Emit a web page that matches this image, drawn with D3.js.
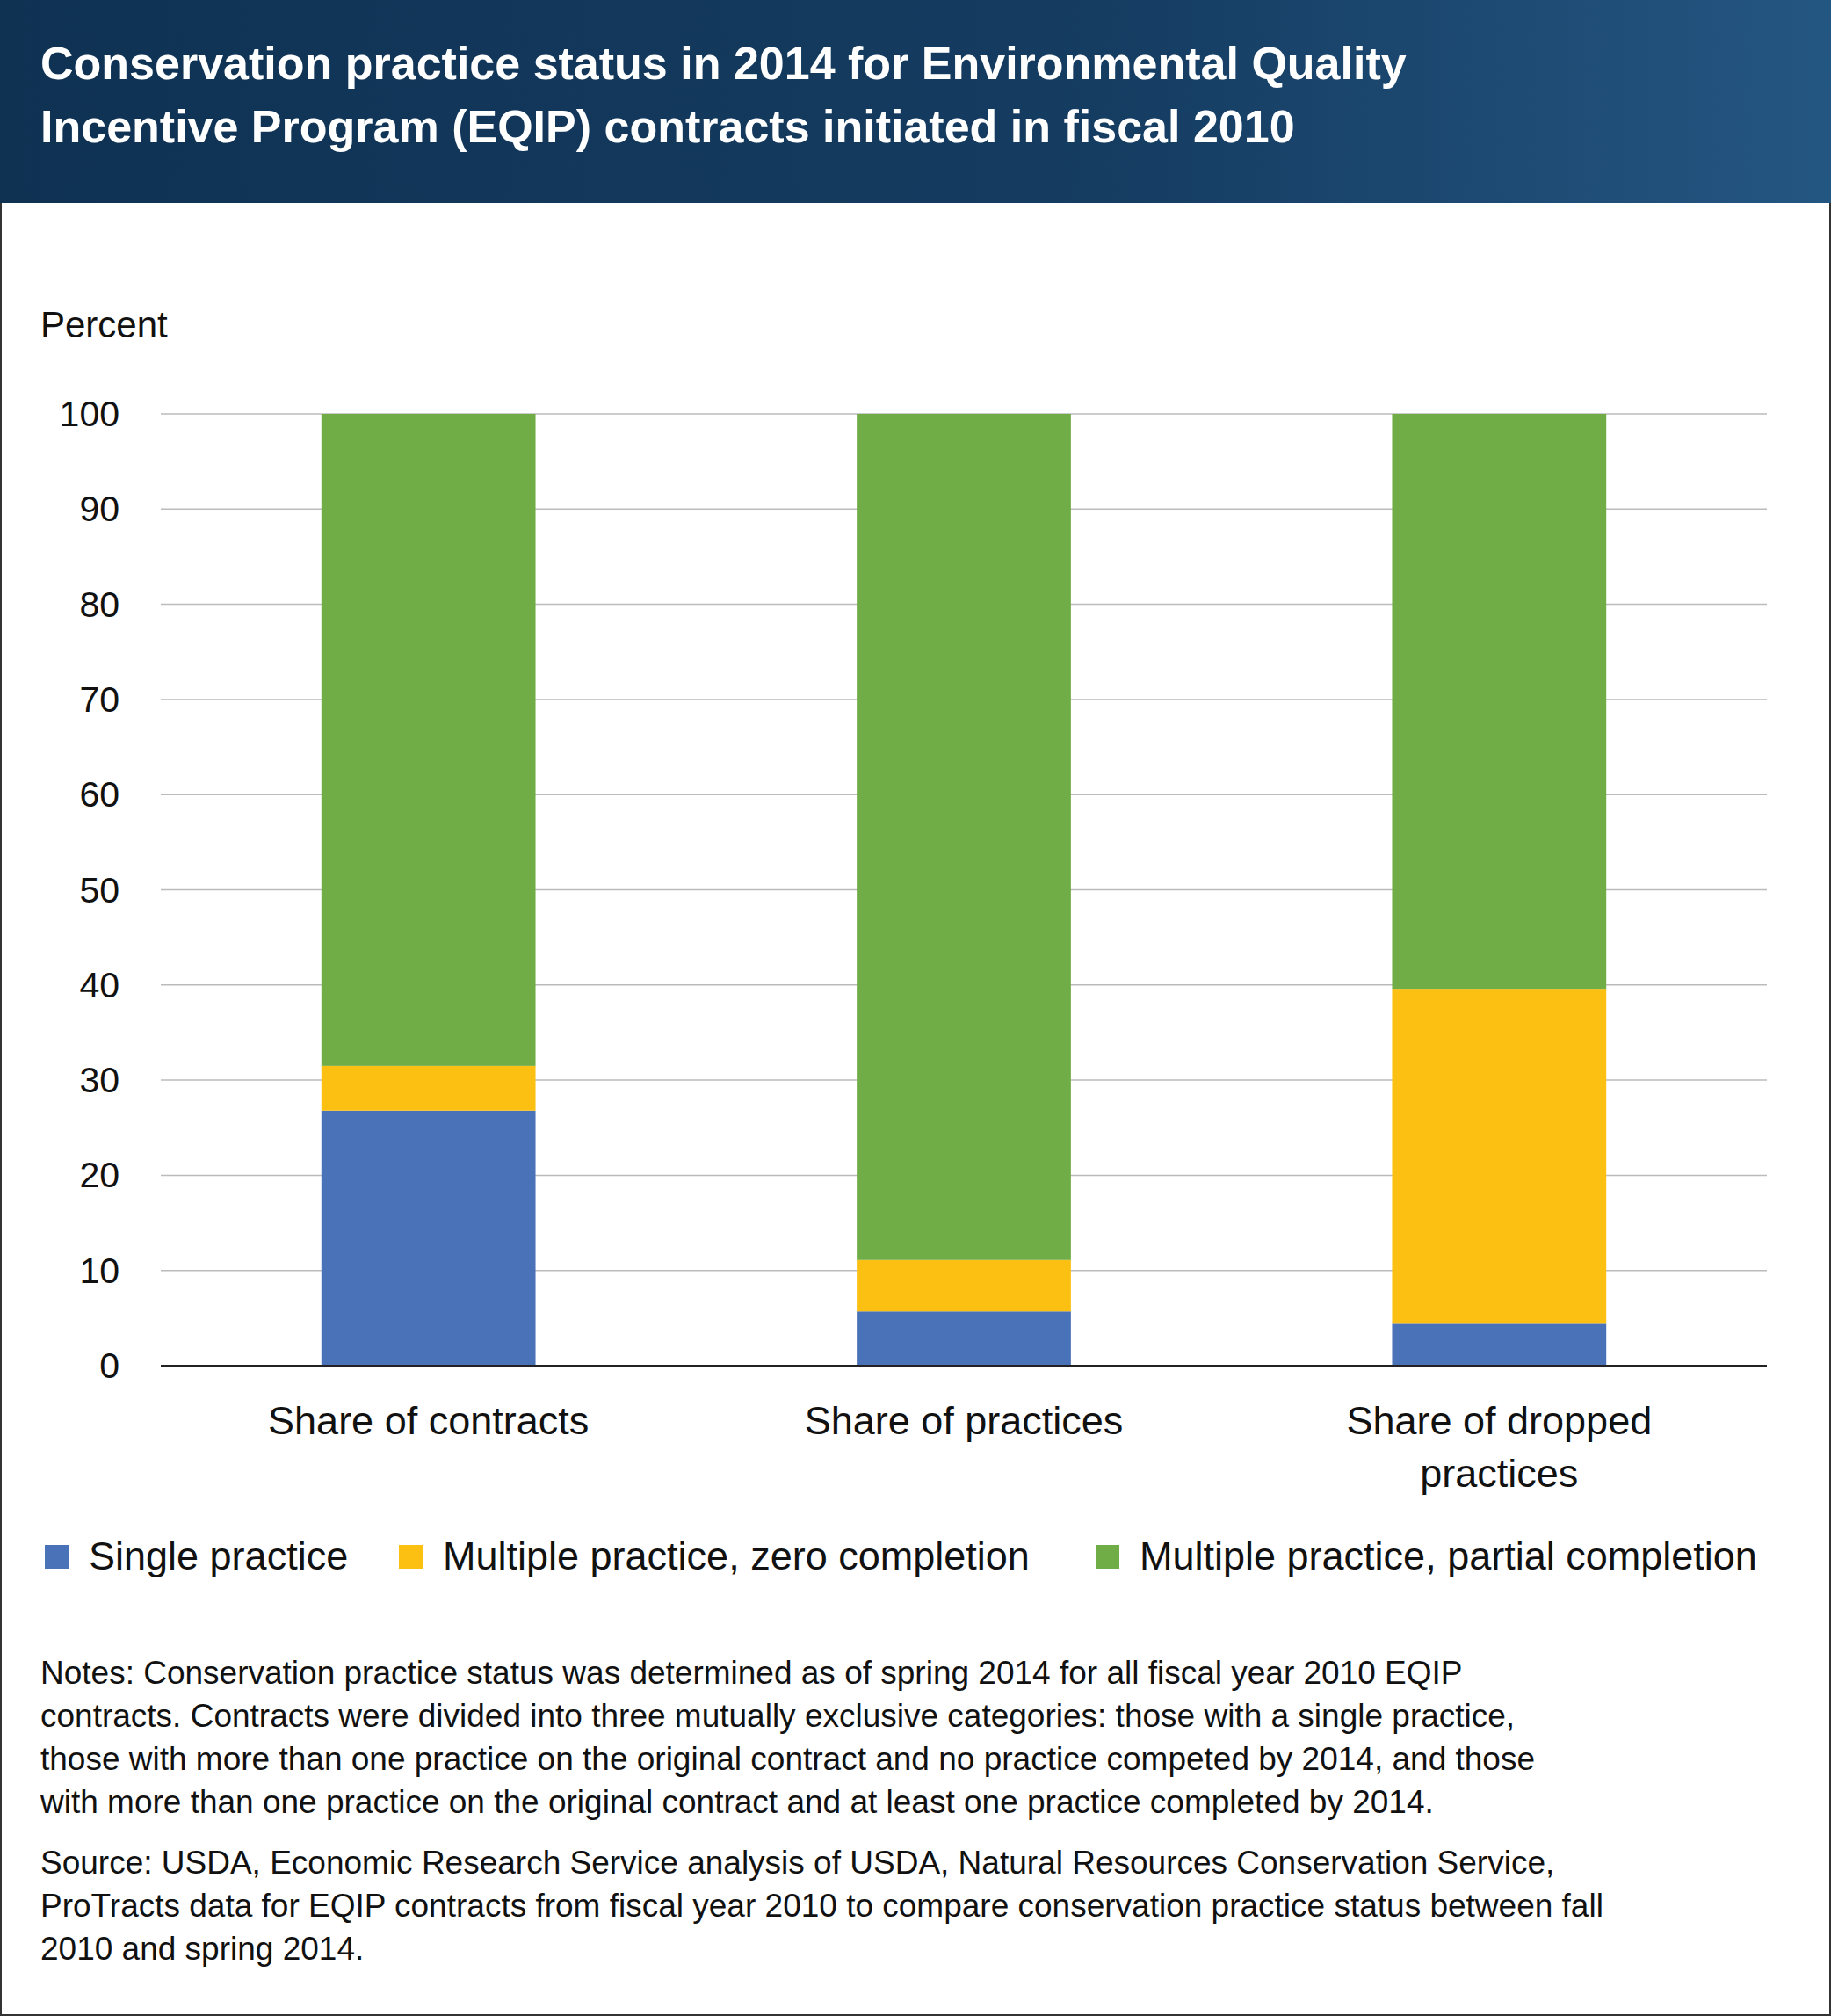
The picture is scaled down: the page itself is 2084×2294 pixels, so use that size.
<!DOCTYPE html>
<html><head><meta charset="utf-8">
<script src="https://cdn.jsdelivr.net/npm/d3@7"></script>
<style>body{margin:0;background:#fff}svg{display:block;font-family:"Liberation Sans",Arial,sans-serif}</style>
</head><body>
<svg id="chart" width="2084" height="2294"></svg>
<script>
// chart data
var categories = [["Share of contracts"], ["Share of practices"], ["Share of dropped", "practices"]];
var seriesNames = ["Single practice", "Multiple practice, zero completion", "Multiple practice, partial completion"];
var single = [26.8, 5.7, 4.4];
var zeroDone = [4.7, 5.4, 35.2];
var partial = [68.5, 88.9, 60.4];
var yTicks = [0, 10, 20, 30, 40, 50, 60, 70, 80, 90, 100];
var colors = ["#4a72b8", "#fcc012", "#70ad47"];

var svg = d3.select("#chart");
var defs = svg.append("defs");
var g = defs.append("linearGradient").attr("id", "hdr");
g.append("stop").attr("offset", "0").attr("stop-color", "#0f3253");
g.append("stop").attr("offset", "0.6").attr("stop-color", "#153c61");
g.append("stop").attr("offset", "1").attr("stop-color", "#245682");

svg.append("rect").attr("x", 1).attr("y", 1).attr("width", 2082).attr("height", 2292)
   .attr("fill", "#fff").attr("stroke", "#333").attr("stroke-width", 2);
svg.append("rect").attr("width", 2084).attr("height", 231).attr("fill", "url(#hdr)");
["Conservation practice status in 2014 for Environmental Quality",
 "Incentive Program (EQIP) contracts initiated in fiscal 2010"].forEach(function(t, i) {
    svg.append("text").attr("x", 46).attr("y", 90 + i * 72).attr("fill", "#fff")
       .attr("font-size", 52).attr("font-weight", "bold").text(t);
});

var y = d3.scaleLinear().domain([0, 100]).range([1554, 471]);
var x = d3.scaleBand().domain([0, 1, 2]).range([183, 2011]).paddingInner(0.6).paddingOuter(0.3);

svg.append("text").attr("x", 46).attr("y", 384).attr("font-size", 42).attr("fill", "#111").text("Percent");

// gridlines
svg.selectAll(".grid").data(yTicks.slice(1)).enter().append("line")
   .attr("x1", 183).attr("x2", 2011)
   .attr("y1", function(d) { return y(d); }).attr("y2", function(d) { return y(d); })
   .attr("stroke", "#bbb").attr("stroke-width", 1.5);
svg.selectAll(".ytl").data(yTicks).enter().append("text")
   .attr("x", 136).attr("y", function(d) { return y(d) + 14; })
   .attr("text-anchor", "end").attr("font-size", 41).attr("fill", "#111")
   .text(function(d) { return d; });

// stacked bars
var rows = categories.map(function(c, i) { return {i: i, a: single[i], b: zeroDone[i], c: partial[i]}; });
var stack = d3.stack().keys(["a", "b", "c"])(rows);
svg.selectAll(".layer").data(stack).enter().append("g")
   .attr("fill", function(d, k) { return colors[k]; })
   .selectAll("rect").data(function(d) { return d; }).enter().append("rect")
   .attr("x", function(d) { return x(d.data.i); })
   .attr("width", x.bandwidth())
   .attr("y", function(d) { return y(d[1]); })
   .attr("height", function(d) { return y(d[0]) - y(d[1]); });

svg.append("line").attr("x1", 183).attr("x2", 2011).attr("y1", 1554).attr("y2", 1554)
   .attr("stroke", "#222").attr("stroke-width", 2);

categories.forEach(function(lines, i) {
    lines.forEach(function(t, j) {
        svg.append("text").attr("x", x(i) + x.bandwidth() / 2).attr("y", 1632 + j * 60)
           .attr("text-anchor", "middle").attr("font-size", 45).attr("fill", "#111").text(t);
    });
});

// legend
var legX = [51, 454, 1247];
seriesNames.forEach(function(n, i) {
    svg.append("rect").attr("x", legX[i]).attr("y", 1758).attr("width", 27).attr("height", 27).attr("fill", colors[i]);
    svg.append("text").attr("x", legX[i] + 50).attr("y", 1786).attr("font-size", 45).attr("fill", "#111").text(n);
});

var notes = ["Notes: Conservation practice status was determined as of spring 2014 for all fiscal year 2010 EQIP",
 "contracts. Contracts were divided into three mutually exclusive categories: those with a single practice,",
 "those with more than one practice on the original contract and no practice competed by 2014, and those",
 "with more than one practice on the original contract and at least one practice completed by 2014."];
var source = ["Source: USDA, Economic Research Service analysis of USDA, Natural Resources Conservation Service,",
 "ProTracts data for EQIP contracts from fiscal year 2010 to compare conservation practice status between fall",
 "2010 and spring 2014."];
notes.forEach(function(t, i) {
    svg.append("text").attr("x", 46).attr("y", 1916 + i * 49).attr("font-size", 37).attr("fill", "#111").text(t);
});
source.forEach(function(t, i) {
    svg.append("text").attr("x", 46).attr("y", 2132 + i * 49).attr("font-size", 37).attr("fill", "#111").text(t);
});
</script>
</body></html>
